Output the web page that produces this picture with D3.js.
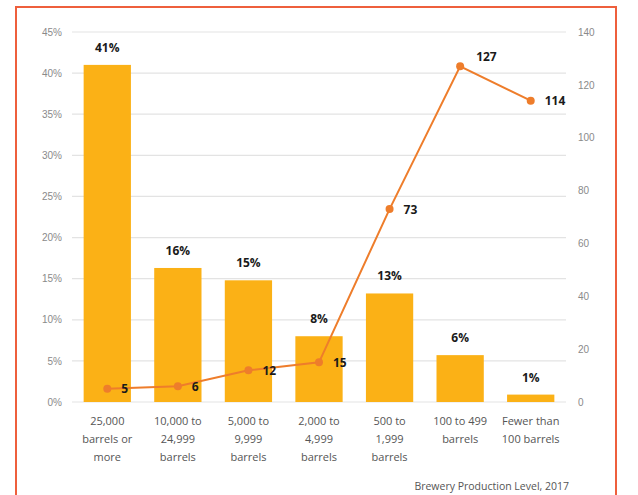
<!DOCTYPE html>
<html><head><meta charset="utf-8">
<script src="https://cdn.jsdelivr.net/npm/d3@7/dist/d3.min.js"></script>
<style>body{margin:0;background:#fff;}svg{display:block;font-family:"Open Sans",sans-serif;}</style>
</head><body>
<svg id="c" width="638" height="495"></svg>
<script>
const categories = [["25,000","barrels or","more"],["10,000 to","24,999","barrels"],["5,000 to","9,999","barrels"],["2,000 to","4,999","barrels"],["500 to","1,999","barrels"],["100 to 499","barrels"],["Fewer than","100 barrels"]];
const sharePct = [41, 16.3, 14.8, 8, 13.2, 5.7, 0.9];
const shareLabels = ["41%","16%","15%","8%","13%","6%","1%"];
const breweries = [5, 6, 12, 15, 73, 127, 114];
const leftTicks = [0,5,10,15,20,25,30,35,40,45];
const rightTicks = [0,20,40,60,80,100,120,140];
const footer = "Brewery Production Level, 2017";

const svg = d3.select("#c");
// border
svg.append("rect").attr("x",16).attr("y",7).attr("width",600).attr("height",500)
  .attr("fill","none").attr("stroke","#EE5F3C").attr("stroke-width",2);

const x = d3.scaleBand().domain(d3.range(categories.length)).range([72,566]).paddingInner(0.33).paddingOuter(0.165);
const yL = d3.scaleLinear().domain([0,45]).range([402,32]);
const yR = d3.scaleLinear().domain([0,140]).range([402,32]);

// grid
svg.append("g").selectAll("line").data(leftTicks).join("line")
  .attr("x1",72).attr("x2",566).attr("y1",d=>yL(d)).attr("y2",d=>yL(d))
  .attr("stroke","#e3e3e3").attr("stroke-width",1.2);

// left axis
const gl = svg.append("g").attr("transform","translate(62,0)")
  .call(d3.axisLeft(yL).tickValues(leftTicks).tickSize(0).tickPadding(0).tickFormat(d=>d+"%"));
gl.select(".domain").remove();
gl.selectAll("text").attr("fill","#8a8a8a").attr("font-size",10);

// right axis
const gr = svg.append("g").attr("transform","translate(578,0)")
  .call(d3.axisRight(yR).tickValues(rightTicks).tickSize(0).tickPadding(0));
gr.select(".domain").remove();
gr.selectAll("text").attr("fill","#8a8a8a").attr("font-size",10);

// bars
svg.append("g").selectAll("rect").data(sharePct).join("rect")
  .attr("x",(d,i)=>x(i)).attr("width",x.bandwidth())
  .attr("y",d=>yL(d)).attr("height",d=>yL(0)-yL(d)).attr("fill","#FBB116");

svg.append("g").selectAll("text").data(sharePct).join("text")
  .attr("x",(d,i)=>x(i)+x.bandwidth()/2).attr("y",d=>yL(d)-13)
  .attr("text-anchor","middle").attr("font-weight","bold").attr("font-size",12).attr("fill","#1a1a1a")
  .text((d,i)=>shareLabels[i]);

// line
const cx = i=>x(i)+x.bandwidth()/2;
svg.append("path").datum(breweries)
  .attr("d",d3.line().x((d,i)=>cx(i)).y(d=>yR(d)))
  .attr("fill","none").attr("stroke","#EE7D2B").attr("stroke-width",2);
svg.append("g").selectAll("circle").data(breweries).join("circle")
  .attr("cx",(d,i)=>cx(i)).attr("cy",d=>yR(d)).attr("r",4).attr("fill","#EE7D2B");
svg.append("g").selectAll("text").data(breweries).join("text")
  .attr("x",(d,i)=>cx(i)+(i===5?16:14)).attr("y",(d,i)=>yR(d)+(i===5?-5:4.5))
  .attr("font-weight","bold").attr("font-size",12).attr("fill","#1a1a1a")
  .text(d=>d);

// x labels
const xl = svg.append("g").selectAll("text").data(categories).join("text")
  .attr("x",(d,i)=>cx(i)).attr("y",425).attr("text-anchor","middle")
  .attr("font-size",11).attr("fill","#555");
xl.selectAll("tspan").data(d=>d).join("tspan")
  .attr("x",function(){return this.parentNode.getAttribute("x");})
  .attr("dy",(d,j)=>j===0?0:18).text(d=>d);

svg.append("text").attr("x",569).attr("y",490).attr("text-anchor","end")
  .attr("font-size",10.5).attr("fill","#555").text(footer);
</script>
</body></html>
